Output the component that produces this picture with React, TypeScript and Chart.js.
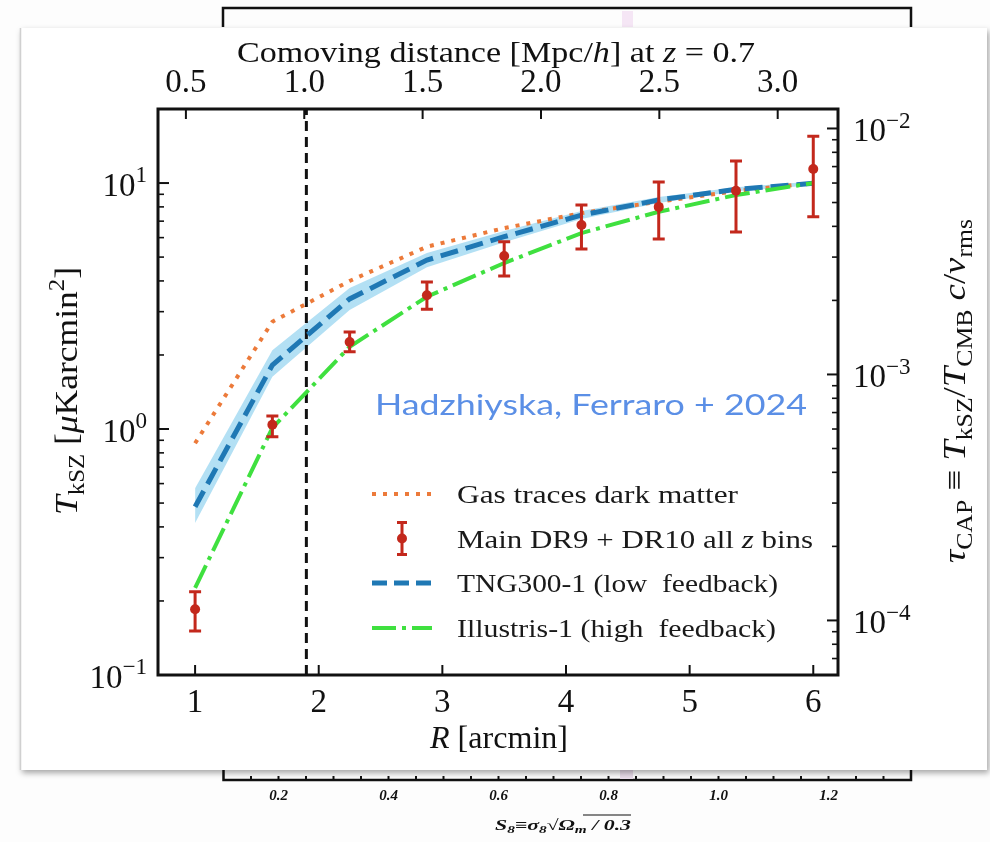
import React, { useEffect, useRef } from 'react';
import { Chart, registerables } from 'chart.js';

Chart.register(...registerables);

// Aperture radii of the CAP filter [arcmin]
const R_ARCMIN = [1, 1.625, 2.25, 2.875, 3.5, 4.125, 4.75, 5.375, 6];

// Measured kSZ signal and 1-sigma bounds [muK arcmin^2]
const OBS_T = [0.185, 1.04, 2.26, 3.5, 5.05, 6.75, 8.0, 9.3, 11.4];
const OBS_LO = [0.151, 0.93, 2.06, 3.07, 4.19, 5.39, 5.92, 6.32, 7.3];
const OBS_HI = [0.218, 1.13, 2.48, 3.96, 5.77, 8.14, 10.1, 12.3, 15.5];

// Model profiles
const GAS_T = [0.875, 2.73, 4.0, 5.51, 6.56, 7.55, 8.4, 9.28, 10.0];
const TNG_T = [0.483, 1.82, 3.38, 4.86, 6.05, 7.41, 8.53, 9.43, 9.97];
const TNG_LO = [0.415, 1.63, 3.05, 4.55, 5.75, 7.15, 8.3, 9.25, 9.8];
const TNG_HI = [0.575, 2.09, 3.74, 5.2, 6.38, 7.7, 8.78, 9.62, 10.15];
const ILL_T = [0.226, 1.01, 2.16, 3.45, 4.73, 6.26, 7.64, 8.94, 10.0];

// Beam-scale cut
const CUT_R = 1.9;

// Axis ranges and conversions
const R_RANGE = [0.7, 6.2];
const T_RANGE = [0.1, 20];
const T_TO_TAU = 6e-4;
const DIST_PER_ARCMIN = 0.5223;
const DIST_OFFSET = 0.0165;

// Tick labels
const X_TICKS = [1, 2, 3, 4, 5, 6];
const DIST_TICKS = [0.5, 1.0, 1.5, 2.0, 2.5, 3.0];
const DIST_LABELS = ['0.5', '1.0', '1.5', '2.0', '2.5', '3.0'];
const Y_MAJOR = [0.1, 1, 10];
const Y_EXP = ['\u22121', '0', '1'];
const TAU_MAJOR = [1e-4, 1e-3, 1e-2];
const TAU_EXP = ['\u22124', '\u22123', '\u22122'];
const S8_RANGE = [0.1, 1.35];
const S8_LABELS = ['0.2', '0.4', '0.6', '0.8', '1.0', '1.2'];

const LEGEND_LABELS = [
  'Gas traces dark matter',
  'Main DR9 + DR10 all z bins',
  'TNG300-1 (low  feedback)',
  'Illustris-1 (high  feedback)',
];

const ORANGE = '#ec7a3a';
const BLUE = '#1f78b4';
const GREEN = '#3fe03f';
const RED = '#c3281c';
const BAND = 'rgba(128, 204, 236, 0.6)';
const INK = '#111111';
const SERIF = '"Liberation Serif", "Times New Roman", serif';

type Seg = { t: string; it?: boolean; sub?: boolean; sup?: boolean };

function segFont(s: Seg, size: number, weight = '') {
  const sz = s.sub || s.sup ? size * 0.7 : size;
  return `${s.it ? 'italic ' : ''}${weight ? weight + ' ' : ''}${sz}px ${SERIF}`;
}

function richWidth(ctx: CanvasRenderingContext2D, segs: Seg[], size: number, weight = '') {
  let w = 0;
  for (const s of segs) {
    ctx.font = segFont(s, size, weight);
    w += ctx.measureText(s.t).width;
  }
  return w;
}

function drawRich(
  ctx: CanvasRenderingContext2D,
  segs: Seg[],
  x: number,
  y: number,
  size: number,
  opt: { align?: 'left' | 'center' | 'right'; rot?: number; width?: number; color?: string; weight?: string } = {}
) {
  const weight = opt.weight || '';
  const w = richWidth(ctx, segs, size, weight);
  const sx = opt.width ? opt.width / w : 1;
  ctx.save();
  ctx.translate(x, y);
  if (opt.rot) ctx.rotate(opt.rot);
  ctx.scale(sx, 1);
  ctx.fillStyle = opt.color || INK;
  ctx.textAlign = 'left';
  ctx.textBaseline = 'alphabetic';
  let cx = opt.align === 'center' ? -w / 2 : opt.align === 'right' ? -w : 0;
  for (const s of segs) {
    ctx.font = segFont(s, size, weight);
    const dy = s.sub ? size * 0.22 : s.sup ? -size * 0.42 : 0;
    ctx.fillText(s.t, cx, dy);
    cx += ctx.measureText(s.t).width;
  }
  ctx.restore();
}

const pts = (xs: number[], ys: number[]) => xs.map((x, i) => ({ x, y: ys[i] }));

function minorTicks(lo: number, hi: number) {
  const out: number[] = [];
  for (let e = Math.floor(Math.log10(lo)); e <= Math.ceil(Math.log10(hi)); e++) {
    for (let m = 2; m <= 9; m++) {
      const v = m * Math.pow(10, e);
      if (v >= lo * 0.999 && v <= hi * 1.001) out.push(v);
    }
  }
  return out;
}

// Page backdrop: the S8 bracket axis behind a white card
const backdrop = {
  id: 'backdrop',
  beforeDraw(chart: any) {
    const ctx: CanvasRenderingContext2D = chart.ctx;
    ctx.save();
    ctx.fillStyle = '#fdfdfd';
    ctx.fillRect(0, 0, chart.width, chart.height);

    // bracket above the card
    ctx.strokeStyle = INK;
    ctx.lineWidth = 2.5;
    ctx.beginPath();
    ctx.moveTo(223, 27);
    ctx.lineTo(223, 8);
    ctx.lineTo(911, 8);
    ctx.lineTo(911, 27);
    ctx.stroke();
    ctx.fillStyle = '#f5e6f5';
    ctx.fillRect(622, 11, 11, 16);

    // S8 axis below the card
    const s8x = (v: number) => 223.5 + ((v - S8_RANGE[0]) / (S8_RANGE[1] - S8_RANGE[0])) * (911 - 223.5);
    ctx.beginPath();
    ctx.moveTo(223.5, 768);
    ctx.lineTo(223.5, 780);
    ctx.lineTo(911, 780);
    ctx.lineTo(911, 768);
    ctx.stroke();
    ctx.lineWidth = 2;
    for (let k = 1; k < 25; k++) {
      const v = S8_RANGE[0] + k * 0.05;
      ctx.beginPath();
      ctx.moveTo(s8x(v), 780);
      ctx.lineTo(s8x(v), 776);
      ctx.stroke();
    }
    ctx.fillStyle = '#e9dcea';
    ctx.fillRect(620, 770, 13, 9);
    S8_LABELS.forEach((lab) => {
      drawRich(ctx, [{ t: lab, it: true }], s8x(parseFloat(lab)), 800, 15, { align: 'center', weight: 'bold' });
    });
    drawRich(
      ctx,
      [
        { t: 'S', it: true },
        { t: '8', it: true, sub: true },
        { t: '\u2261\u03c3', it: true },
        { t: '8', it: true, sub: true },
        { t: '\u221a', it: true },
        { t: '\u03a9', it: true },
        { t: 'm', it: true, sub: true },
        { t: ' / 0.3', it: true },
      ],
      563,
      830,
      15,
      { align: 'center', weight: 'bold', width: 136 }
    );
    ctx.strokeStyle = INK;
    ctx.lineWidth = 1.2;
    ctx.beginPath();
    ctx.moveTo(583, 815);
    ctx.lineTo(631, 815);
    ctx.stroke();

    // card
    ctx.shadowColor = 'rgba(0,0,0,0.35)';
    ctx.shadowBlur = 6;
    ctx.shadowOffsetX = 2;
    ctx.shadowOffsetY = 3;
    ctx.fillStyle = '#ffffff';
    ctx.fillRect(20, 28, 967, 742);
    ctx.shadowColor = 'transparent';
    ctx.strokeStyle = '#d0d0d0';
    ctx.lineWidth = 1.5;
    ctx.beginPath();
    ctx.moveTo(20.5, 28);
    ctx.lineTo(20.5, 770);
    ctx.stroke();
    ctx.restore();
  },
};

// Error bars for the measured points, drawn beneath the markers
const errorBars = {
  id: 'errorBars',
  beforeDatasetDraw(chart: any, args: any) {
    if (chart.data.datasets[args.index].label !== LEGEND_LABELS[1]) return;
    const ctx: CanvasRenderingContext2D = chart.ctx;
    const xs = chart.scales.x;
    const ys = chart.scales.y;
    ctx.save();
    ctx.strokeStyle = RED;
    ctx.lineWidth = 3;
    R_ARCMIN.forEach((r, i) => {
      const px = xs.getPixelForValue(r);
      const top = ys.getPixelForValue(OBS_HI[i]);
      const bot = ys.getPixelForValue(OBS_LO[i]);
      ctx.beginPath();
      ctx.moveTo(px, top);
      ctx.lineTo(px, bot);
      ctx.moveTo(px - 6, top);
      ctx.lineTo(px + 6, top);
      ctx.moveTo(px - 6, bot);
      ctx.lineTo(px + 6, bot);
      ctx.stroke();
    });
    ctx.restore();
  },
};

// Frame, inward ticks, axis labels, legend and credit
const decorations = {
  id: 'decorations',
  afterDraw(chart: any) {
    const ctx: CanvasRenderingContext2D = chart.ctx;
    const a = chart.chartArea;
    const { x, y, x2, y2 } = chart.scales;
    ctx.save();
    ctx.strokeStyle = INK;

    // ticks
    const tick = (x0: number, y0: number, x1: number, y1: number, w: number) => {
      ctx.lineWidth = w;
      ctx.beginPath();
      ctx.moveTo(x0, y0);
      ctx.lineTo(x1, y1);
      ctx.stroke();
    };
    X_TICKS.forEach((v) => {
      const px = x.getPixelForValue(v);
      tick(px, a.bottom, px, a.bottom - 10, 2);
    });
    DIST_TICKS.forEach((v) => {
      const px = x2.getPixelForValue(v);
      tick(px, a.top, px, a.top + 10, 2);
    });
    Y_MAJOR.forEach((v) => {
      const py = y.getPixelForValue(v);
      tick(a.left, py, a.left + 11, py, 2);
    });
    minorTicks(T_RANGE[0], T_RANGE[1]).forEach((v) => {
      const py = y.getPixelForValue(v);
      tick(a.left, py, a.left + 6, py, 1.6);
    });
    TAU_MAJOR.forEach((v) => {
      const py = y2.getPixelForValue(v);
      tick(a.right, py, a.right - 11, py, 2);
    });
    minorTicks(T_RANGE[0] * T_TO_TAU, T_RANGE[1] * T_TO_TAU).forEach((v) => {
      const py = y2.getPixelForValue(v);
      tick(a.right, py, a.right - 6, py, 1.6);
    });

    // frame
    ctx.lineWidth = 3;
    ctx.strokeRect(a.left, a.top, a.right - a.left, a.bottom - a.top);

    // tick labels
    X_TICKS.forEach((v) => {
      drawRich(ctx, [{ t: String(v) }], x.getPixelForValue(v), a.bottom + 37, 33, { align: 'center' });
    });
    DIST_TICKS.forEach((v, i) => {
      drawRich(ctx, [{ t: DIST_LABELS[i] }], x2.getPixelForValue(v), a.top - 17, 33, { align: 'center' });
    });
    Y_MAJOR.forEach((v, i) => {
      drawRich(ctx, [{ t: '10' }, { t: Y_EXP[i], sup: true }], a.left - 11, y.getPixelForValue(v) + 13, 33, {
        align: 'right',
      });
    });
    TAU_MAJOR.forEach((v, i) => {
      drawRich(ctx, [{ t: '10' }, { t: TAU_EXP[i], sup: true }], a.right + 15, y2.getPixelForValue(v) + 13, 33, {
        align: 'left',
      });
    });

    // axis titles
    drawRich(
      ctx,
      [
        { t: 'Comoving distance [Mpc/' },
        { t: 'h', it: true },
        { t: '] at ' },
        { t: 'z', it: true },
        { t: ' = 0.7' },
      ],
      496,
      62,
      30,
      { align: 'center', width: 518 }
    );
    drawRich(ctx, [{ t: 'R', it: true }, { t: ' [arcmin]' }], 499, 748, 32, { align: 'center', width: 138 });
    drawRich(
      ctx,
      [
        { t: 'T', it: true },
        { t: 'kSZ', sub: true },
        { t: ' [' },
        { t: '\u03bc', it: true },
        { t: 'Karcmin' },
        { t: '2', sup: true },
        { t: ']' },
      ],
      77,
      391,
      32,
      { align: 'center', rot: -Math.PI / 2, width: 248 }
    );
    drawRich(
      ctx,
      [
        { t: '\u03c4', it: true },
        { t: 'CAP', sub: true },
        { t: ' \u2261 ' },
        { t: 'T', it: true },
        { t: 'kSZ', sub: true },
        { t: '/' },
        { t: 'T', it: true },
        { t: 'CMB', sub: true },
        { t: ' ' },
        { t: 'c', it: true },
        { t: '/' },
        { t: 'v', it: true },
        { t: 'rms', sub: true },
      ],
      965,
      391,
      32,
      { align: 'center', rot: -Math.PI / 2, width: 344 }
    );

    // legend
    const rows = [494, 538.5, 583, 628];
    const lx0 = 372;
    const lx1 = 432;
    ctx.lineCap = 'butt';
    const sample = (rowY: number, color: string, w: number, dash: number[]) => {
      ctx.strokeStyle = color;
      ctx.lineWidth = w;
      ctx.setLineDash(dash);
      ctx.beginPath();
      ctx.moveTo(lx0, rowY);
      ctx.lineTo(lx1, rowY);
      ctx.stroke();
      ctx.setLineDash([]);
    };
    sample(rows[0], ORANGE, 4, [4, 7]);
    sample(rows[2], BLUE, 5, [15, 7]);
    sample(rows[3], GREEN, 4, [24, 6, 4, 6]);
    const ex = (lx0 + lx1) / 2;
    ctx.strokeStyle = RED;
    ctx.lineWidth = 3;
    ctx.beginPath();
    ctx.moveTo(ex, rows[1] - 16);
    ctx.lineTo(ex, rows[1] + 16);
    ctx.moveTo(ex - 5, rows[1] - 16);
    ctx.lineTo(ex + 5, rows[1] - 16);
    ctx.moveTo(ex - 5, rows[1] + 16);
    ctx.lineTo(ex + 5, rows[1] + 16);
    ctx.stroke();
    ctx.fillStyle = RED;
    ctx.beginPath();
    ctx.arc(ex, rows[1], 5, 0, Math.PI * 2);
    ctx.fill();

    const legendSegs: Seg[][] = [
      [{ t: LEGEND_LABELS[0] }],
      [{ t: 'Main DR9 + DR10 all ' }, { t: 'z', it: true }, { t: ' bins' }],
      [{ t: LEGEND_LABELS[2] }],
      [{ t: LEGEND_LABELS[3] }],
    ];
    const legendWidths = [281, 356, 321, 319];
    legendSegs.forEach((segs, i) => {
      drawRich(ctx, segs, 457, rows[i] + 9, 25, { align: 'left', width: legendWidths[i], color: '#1a1a1a' });
    });

    // credit line
    ctx.font = `400 28px Lato, "Open Sans", sans-serif`;
    const credit = 'Hadzhiyska, Ferraro + 2024';
    const cw = ctx.measureText(credit).width;
    ctx.save();
    ctx.translate(375, 415);
    ctx.scale(432 / cw, 1);
    ctx.fillStyle = '#5b8fe6';
    ctx.textAlign = 'left';
    ctx.textBaseline = 'alphabetic';
    ctx.fillText(credit, 0, 0);
    ctx.restore();

    ctx.restore();
  },
};

export default function App() {
  const ref = useRef<HTMLCanvasElement>(null);

  useEffect(() => {
    const canvas = ref.current;
    if (!canvas) return;
    const chart = new Chart(canvas, {
      type: 'line',
      data: {
        datasets: [
          {
            label: 'TNG300-1 band upper',
            data: pts(R_ARCMIN, TNG_HI),
            borderColor: 'transparent',
            borderWidth: 0,
            pointRadius: 0,
            fill: false,
            order: 6,
          },
          {
            label: 'TNG300-1 band lower',
            data: pts(R_ARCMIN, TNG_LO),
            borderColor: 'transparent',
            borderWidth: 0,
            pointRadius: 0,
            backgroundColor: BAND,
            fill: '-1',
            order: 5,
          },
          {
            label: 'cut',
            data: [
              { x: CUT_R, y: T_RANGE[0] },
              { x: CUT_R, y: T_RANGE[1] },
            ],
            borderColor: INK,
            borderWidth: 3,
            borderDash: [10, 6],
            pointRadius: 0,
            fill: false,
            order: 4,
          },
          {
            label: LEGEND_LABELS[0],
            data: pts(R_ARCMIN, GAS_T),
            borderColor: ORANGE,
            borderWidth: 4,
            borderDash: [4, 7],
            pointRadius: 0,
            fill: false,
            order: 3,
          },
          {
            label: LEGEND_LABELS[2],
            data: pts(R_ARCMIN, TNG_T),
            borderColor: BLUE,
            borderWidth: 5,
            borderDash: [18, 8],
            pointRadius: 0,
            fill: false,
            order: 2,
          },
          {
            label: LEGEND_LABELS[3],
            data: pts(R_ARCMIN, ILL_T),
            borderColor: GREEN,
            borderWidth: 4,
            borderDash: [25, 6, 4, 6],
            pointRadius: 0,
            fill: false,
            order: 1,
          },
          {
            label: LEGEND_LABELS[1],
            data: pts(R_ARCMIN, OBS_T),
            showLine: false,
            pointRadius: 5,
            pointBackgroundColor: RED,
            pointBorderColor: RED,
            pointBorderWidth: 0,
            fill: false,
            order: 0,
          },
        ],
      },
      options: {
        animation: false,
        responsive: false,
        devicePixelRatio: 1,
        events: [],
        layout: { padding: { left: 158, right: 152, top: 109, bottom: 167 } },
        plugins: { legend: { display: false }, tooltip: { enabled: false } },
        scales: {
          x: { type: 'linear', min: R_RANGE[0], max: R_RANGE[1], display: false },
          x2: {
            type: 'linear',
            position: 'top',
            min: R_RANGE[0] * DIST_PER_ARCMIN + DIST_OFFSET,
            max: R_RANGE[1] * DIST_PER_ARCMIN + DIST_OFFSET,
            display: false,
          },
          y: { type: 'logarithmic', min: T_RANGE[0], max: T_RANGE[1], display: false },
          y2: {
            type: 'logarithmic',
            position: 'right',
            min: T_RANGE[0] * T_TO_TAU,
            max: T_RANGE[1] * T_TO_TAU,
            display: false,
          },
        },
      },
      plugins: [backdrop, errorBars, decorations],
    } as any);
    return () => chart.destroy();
  }, []);

  return (
    <div style={{ position: 'absolute', left: 0, top: 0, width: 990, height: 842 }}>
      <canvas ref={ref} width={990} height={842} style={{ display: 'block' }} />
    </div>
  );
}
